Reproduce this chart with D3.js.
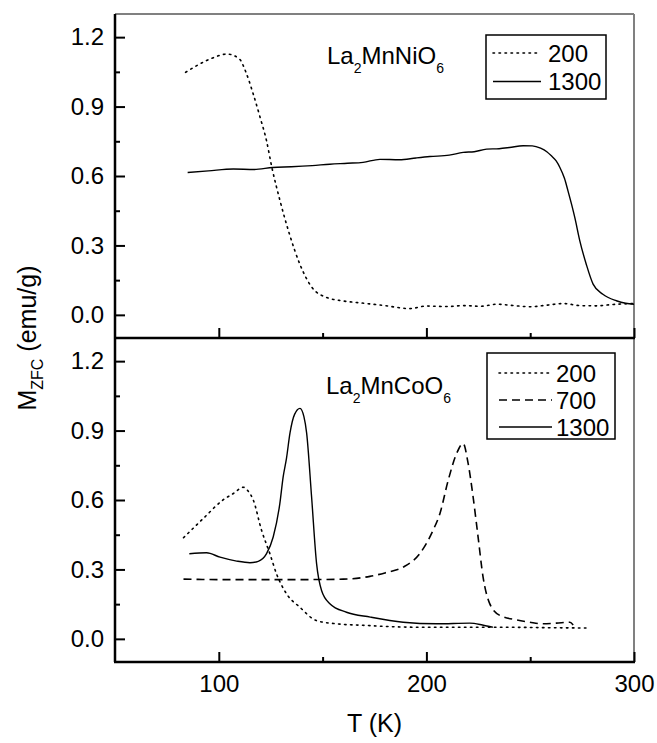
<!DOCTYPE html>
<html>
<head>
<meta charset="utf-8">
<script src="https://cdn.jsdelivr.net/npm/d3@7"></script>
<style>
  body { margin: 0; background: #fff; }
  text { font-family: "Liberation Sans", Arial, sans-serif; fill: #000; }
</style>
</head>
<body>
<div id="chart"></div>
<script>
// La2MnNiO6 (top panel)
var niT200 = [84, 90, 97, 104, 110, 113, 116.6, 120, 123, 125.5, 129.5, 134, 139, 145, 152, 160, 170, 180, 192, 200, 210, 218, 226, 234, 242, 250, 258, 266, 274, 282, 290, 300];
var niM200 = [1.048, 1.08, 1.11, 1.127, 1.105, 1.05, 0.954, 0.85, 0.752, 0.64, 0.493, 0.35, 0.22, 0.117, 0.075, 0.06, 0.05, 0.04, 0.027, 0.038, 0.036, 0.04, 0.037, 0.046, 0.04, 0.035, 0.042, 0.049, 0.04, 0.039, 0.045, 0.049];
var niT1300 = [85, 95, 107, 117, 126, 135, 145, 153.5, 162, 169.5, 177.6, 187, 195, 201.7, 211, 217.7, 223, 229, 235, 240, 246.6, 251, 255, 258, 260.2, 262.5, 264.3, 266.5, 268.2, 270, 271.5, 273.9, 277, 280.3, 285, 291.5, 296, 300];
var niM1300 = [0.615, 0.622, 0.63, 0.628, 0.637, 0.64, 0.645, 0.651, 0.655, 0.659, 0.672, 0.67, 0.678, 0.684, 0.69, 0.702, 0.705, 0.716, 0.718, 0.723, 0.731, 0.73, 0.72, 0.705, 0.687, 0.665, 0.637, 0.59, 0.536, 0.475, 0.42, 0.32, 0.219, 0.133, 0.089, 0.061, 0.05, 0.046];

// La2MnCoO6 (bottom panel)
var coT200 = [83, 92.5, 102, 107, 111.8, 114, 116.6, 120.6, 124.6, 127.8, 132.6, 139, 147, 156.7, 171, 185, 200, 220, 240, 260, 278.7];
var coM200 = [0.437, 0.52, 0.6, 0.628, 0.655, 0.64, 0.6, 0.469, 0.368, 0.281, 0.195, 0.137, 0.079, 0.065, 0.058, 0.052, 0.05, 0.05, 0.05, 0.048, 0.047];
var coT700 = [83, 90, 100, 120, 140, 160, 172.8, 180, 188.8, 196.8, 203.2, 206.5, 210.5, 214.5, 217.7, 220.1, 222.5, 224.9, 227.3, 230.5, 235.4, 243.4, 249.8, 256.2, 262.6, 269.1, 270.7];
var coM700 = [0.258, 0.257, 0.256, 0.256, 0.256, 0.258, 0.27, 0.285, 0.31, 0.368, 0.469, 0.541, 0.685, 0.8, 0.844, 0.758, 0.613, 0.44, 0.267, 0.152, 0.101, 0.082, 0.072, 0.065, 0.068, 0.072, 0.06];
var coT1300 = [85.8, 94.1, 100.6, 108.6, 115, 119, 123, 126.2, 129.4, 131, 132.6, 134.3, 136.5, 139.1, 141, 142.3, 144.7, 147.1, 149.5, 153.5, 161.5, 173, 188.8, 204.9, 220.9, 227, 232];
var coM1300 = [0.368, 0.372, 0.353, 0.336, 0.329, 0.335, 0.368, 0.44, 0.584, 0.7, 0.78, 0.89, 0.97, 0.996, 0.96, 0.89, 0.613, 0.325, 0.209, 0.152, 0.115, 0.094, 0.072, 0.065, 0.068, 0.06, 0.05];

var xTicks = [100, 200, 300];
var xMinor = [150, 250];
var yTicks = [0, 0.3, 0.6, 0.9, 1.2];
var yMinor = [0.15, 0.45, 0.75, 1.05];

var width = 657, height = 743;
var left = 115, right = 634;

var svg = d3.select("#chart").append("svg")
    .attr("width", width)
    .attr("height", height);

var x = d3.scaleLinear().domain([50, 300]).range([left, right]);

var dashes = { "200": "1.5,4.5", "700": "8,5", "1300": null };

function zip(ts, ms) {
  return ts.map(function(t, i) { return [t, ms[i]]; });
}

var frames = svg.append("g");
var plots = svg.append("g");
var axes = svg.append("g");

function panel(top, bottom, series, compound, legendBox, showLabels, topLine) {
  var y = d3.scaleLinear().domain([-0.1, 1.3]).range([bottom, top]);
  var g = plots.append("g");
  var a = axes.append("g");

  // frame: top/right grey
  if (topLine) {
    frames.append("line").attr("x1", left).attr("x2", right).attr("y1", top).attr("y2", top)
        .attr("stroke", "#808080").attr("stroke-width", 2);
  }
  frames.append("line").attr("x1", right).attr("x2", right).attr("y1", top).attr("y2", bottom)
      .attr("stroke", "#808080").attr("stroke-width", 2);

  a.append("g").attr("transform", "translate(" + left + ",0)")
      .call(d3.axisLeft(y).tickValues(yTicks).tickSize(-10).tickPadding(11)
        .tickFormat(d3.format(".1f")));
  a.append("g").attr("transform", "translate(" + left + ",0)")
      .call(d3.axisLeft(y).tickValues(yMinor).tickSize(-5).tickFormat(""));

  a.append("g").attr("transform", "translate(0," + bottom + ")")
      .call(d3.axisBottom(x).tickValues(xTicks).tickSize(-10).tickPadding(13)
        .tickFormat(showLabels ? d3.format("d") : ""));
  a.append("g").attr("transform", "translate(0," + bottom + ")")
      .call(d3.axisBottom(x).tickValues(xMinor).tickSize(-5).tickFormat(""));

  a.selectAll(".domain").remove();
  a.selectAll(".tick line").attr("stroke", "#000").attr("stroke-width", 2);
  a.selectAll(".tick text").style("font-size", "24px")
      .style("font-family", "'Liberation Sans', Arial, sans-serif");

  a.append("line").attr("x1", left).attr("x2", left).attr("y1", top).attr("y2", bottom)
      .attr("stroke", "#000").attr("stroke-width", 2.5);
  a.append("line").attr("x1", left - 1).attr("x2", right + 1).attr("y1", bottom).attr("y2", bottom)
      .attr("stroke", "#000").attr("stroke-width", 2.5);

  var line = d3.line()
      .x(function(d) { return x(d[0]); })
      .y(function(d) { return y(d[1]); })
      .curve(d3.curveMonotoneX);

  g.selectAll("path.curve")
      .data(series)
      .enter().append("path")
      .attr("class", "curve")
      .attr("d", function(s) { return line(zip(s.t, s.m)); })
      .attr("fill", "none")
      .attr("stroke", "#000")
      .attr("stroke-width", function(s) { return s.name === "1300" ? 1.4 : 1.6; })
      .attr("stroke-dasharray", function(s) { return dashes[s.name]; })
      .attr("stroke-linecap", function(s) { return s.name === "200" ? "round" : "butt"; });

  // compound label
  var lab = g.append("text").attr("x", compound.x).attr("y", compound.y).style("font-size", "24px");
  compound.parts.forEach(function(p) {
    if (p.sub) {
      lab.append("tspan").attr("dy", 9).style("font-size", "14px").text(p.text);
    } else {
      lab.append("tspan").attr("dy", lab.selectAll("tspan").size() ? -9 : 0).text(p.text);
    }
  });

  // legend
  var lg = g.append("g");
  lg.append("rect")
      .attr("x", legendBox.x).attr("y", legendBox.y)
      .attr("width", legendBox.w).attr("height", legendBox.h)
      .attr("fill", "#fff").attr("stroke", "#000").attr("stroke-width", 1.5);
  series.forEach(function(s, i) {
    var yy = legendBox.y + legendBox.first + i * legendBox.step;
    lg.append("line")
        .attr("x1", legendBox.lx1).attr("x2", legendBox.lx2)
        .attr("y1", yy).attr("y2", yy)
        .attr("stroke", "#000").attr("stroke-width", s.name === "1300" ? 1.4 : 1.6)
        .attr("stroke-dasharray", dashes[s.name])
        .attr("stroke-linecap", s.name === "200" ? "round" : "butt");
    lg.append("text").attr("x", legendBox.tx).attr("y", yy).attr("dy", "0.36em")
        .style("font-size", "24px").text(s.name);
  });
}

panel(14, 338,
  [{ name: "200", t: niT200, m: niM200 }, { name: "1300", t: niT1300, m: niM1300 }],
  { x: 327, y: 73, parts: [{ text: "La" }, { text: "2", sub: true }, { text: "MnNiO" }, { text: "6", sub: true }] },
  { x: 486, y: 35, w: 120, h: 64, first: 18, step: 28.5, lx1: 493, lx2: 541, tx: 548 },
  false, true);

panel(338, 662,
  [{ name: "200", t: coT200, m: coM200 }, { name: "700", t: coT700, m: coM700 }, { name: "1300", t: coT1300, m: coM1300 }],
  { x: 326, y: 403, parts: [{ text: "La" }, { text: "2", sub: true }, { text: "MnCoO" }, { text: "6", sub: true }] },
  { x: 487, y: 353, w: 128, h: 86, first: 20, step: 27, lx1: 499, lx2: 552, tx: 556 },
  true, false);

// axis titles
svg.append("text")
    .attr("x", (left + right) / 2).attr("y", 732)
    .attr("text-anchor", "middle")
    .style("font-size", "25px")
    .text("T (K)");

var yt = svg.append("text")
    .attr("transform", "translate(36,338) rotate(-90)")
    .attr("text-anchor", "middle")
    .style("font-size", "25px");
yt.append("tspan").text("M");
yt.append("tspan").attr("dy", 7).style("font-size", "16px").text("ZFC");
yt.append("tspan").attr("dy", -7).text(" (emu/g)");
</script>
</body>
</html>
